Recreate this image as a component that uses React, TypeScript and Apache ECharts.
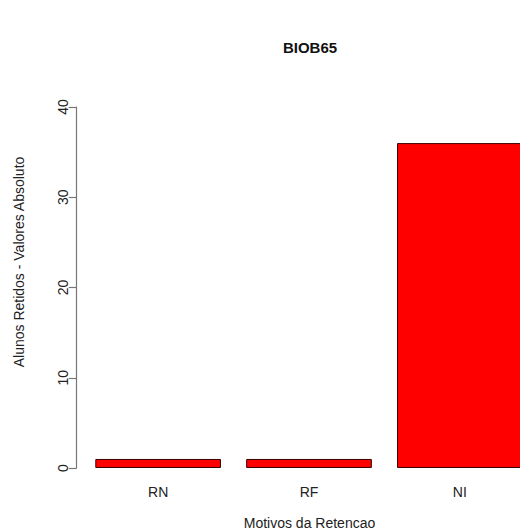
import React, { useEffect, useRef } from "react";
import * as echarts from "echarts";

const categories = ["RN", "RF", "NI"];
const values = [1, 1, 36];
const yTicks = [0, 10, 20, 30, 40];
const title = "BIOB65";
const xTitle = "Motivos da Retencao";
const yTitle = "Alunos Retidos - Valores Absoluto";

const FONT = "'Liberation Sans', Arial, Helvetica, sans-serif";

export default function App() {
  const ref = useRef<HTMLDivElement>(null);
  useEffect(() => {
    if (!ref.current) return;
    const chart = echarts.init(ref.current, undefined, { renderer: "svg" });
    chart.setOption({
      animation: false,
      backgroundColor: "#ffffff",
      textStyle: { fontFamily: FONT },
      grid: { left: 82.7, right: 4.7, top: 107, bottom: 64, containLabel: false },
      xAxis: {
        type: "category",
        data: categories,
        axisLine: { show: false },
        axisTick: { show: false },
        axisLabel: { color: "#222", fontSize: 14, margin: 17, fontFamily: FONT },
      },
      yAxis: {
        type: "value",
        min: yTicks[0],
        max: yTicks[yTicks.length - 1],
        interval: 10,
        offset: 6,
        splitLine: { show: false },
        axisLine: { show: true, lineStyle: { color: "#777", width: 1.2 } },
        axisTick: { show: true, length: 8, lineStyle: { color: "#777", width: 1.2 } },
        axisLabel: { color: "#222", fontSize: 14, rotate: 90, margin: 7, fontFamily: FONT },
      },
      series: [
        {
          type: "bar",
          data: values,
          barWidth: "83.3%",
          itemStyle: { color: "#ff0000", borderColor: "#3a0000", borderWidth: 1 },
        },
      ],
      graphic: [
        {
          type: "text",
          x: 310,
          y: 47,
          style: {
            text: title,
            fontSize: 15,
            fontWeight: "bold",
            fill: "#111",
            align: "center",
            verticalAlign: "middle",
            fontFamily: FONT,
          },
        },
        {
          type: "text",
          x: 309.5,
          y: 523,
          style: {
            text: xTitle,
            fontSize: 14,
            fill: "#222",
            align: "center",
            verticalAlign: "middle",
            fontFamily: FONT,
          },
        },
        {
          type: "text",
          x: 19,
          y: 262,
          rotation: Math.PI / 2,
          style: {
            text: yTitle,
            fontSize: 14,
            fill: "#222",
            align: "center",
            verticalAlign: "middle",
            fontFamily: FONT,
          },
        },
      ],
    });
    return () => chart.dispose();
  }, []);
  return (
    <div style={{ position: "fixed", left: 0, top: 0, width: 520, height: 532, overflow: "hidden" }}>
      <div ref={ref} style={{ position: "absolute", left: 0, top: 0, width: 540, height: 532 }} />
    </div>
  );
}
